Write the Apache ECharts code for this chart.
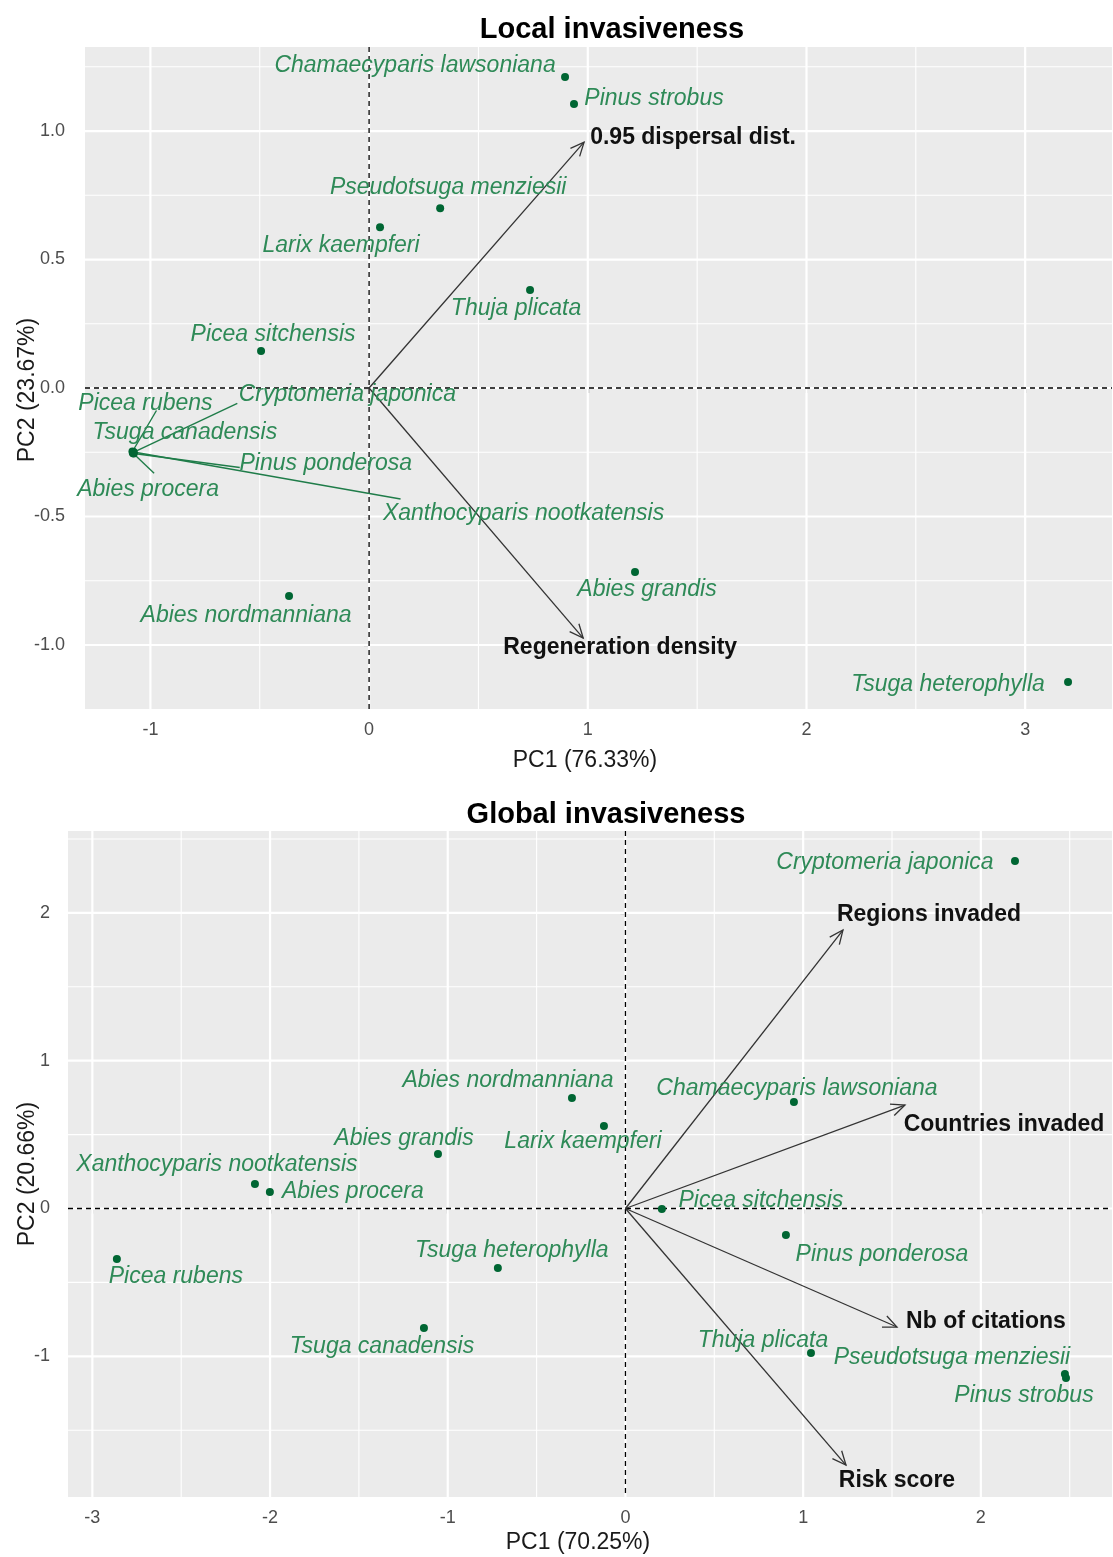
<!DOCTYPE html>
<html>
<head>
<meta charset="utf-8">
<script src="https://cdn.jsdelivr.net/npm/echarts@6/dist/echarts.min.js"></script>
<style>html,body{margin:0;padding:0;background:#fff}#c{width:1113px;height:1557px}</style>
</head>
<body>
<div id="c"></div>
<script>
// ---------- Data: Local invasiveness ----------
const localSpecies = ['Chamaecyparis lawsoniana','Pinus strobus','Pseudotsuga menziesii','Larix kaempferi','Thuja plicata','Picea sitchensis','Cryptomeria japonica','Picea rubens','Tsuga canadensis','Pinus ponderosa','Abies procera','Xanthocyparis nootkatensis','Abies nordmanniana','Abies grandis','Tsuga heterophylla'];
const localPC1 = [0.896,0.937,0.325,0.050,0.736,-0.494,-1.078,-1.082,-1.080,-1.076,-1.079,-1.077,-0.366,1.216,3.196];
const localPC2 = [1.210,1.105,0.700,0.626,0.381,0.144,-0.250,-0.247,-0.252,-0.255,-0.254,-0.249,-0.809,-0.716,-1.144];
const localVars = ['0.95 dispersal dist.','Regeneration density'];
const localVarPC1 = [0.983,0.979];
const localVarPC2 = [0.957,-0.973];
const localXTicks = [-1,0,1,2,3];
const localYTicks = [-1,-0.5,0,0.5,1];
const localXMinor = [-0.5,0.5,1.5,2.5];
const localYMinor = [-0.75,-0.25,0.25,0.75,1.25];

// ---------- Data: Global invasiveness ----------
const globalSpecies = ['Cryptomeria japonica','Abies nordmanniana','Larix kaempferi','Chamaecyparis lawsoniana','Abies grandis','Xanthocyparis nootkatensis','Abies procera','Picea sitchensis','Pinus ponderosa','Picea rubens','Tsuga heterophylla','Tsuga canadensis','Thuja plicata','Pseudotsuga menziesii','Pinus strobus'];
const globalPC1 = [2.192,-0.301,-0.121,0.948,-1.055,-2.085,-2.001,0.205,0.903,-2.862,-0.718,-1.134,1.044,2.473,2.479];
const globalPC2 = [2.351,0.747,0.558,0.720,0.369,0.166,0.112,-0.003,-0.179,-0.342,-0.403,-0.808,-0.978,-1.120,-1.147];
const globalVars = ['Regions invaded','Countries invaded','Nb of citations','Risk score'];
const globalVarPC1 = [1.224,1.573,1.528,1.241];
const globalVarPC2 = [1.884,0.700,-0.802,-1.736];
const globalXTicks = [-3,-2,-1,0,1,2];
const globalYTicks = [-1,0,1,2];
const globalXMinor = [-2.5,-1.5,-0.5,0.5,1.5,2.5];
const globalYMinor = [-1.5,-0.5,0.5,1.5,2.5];

// ---------- Layout (pixel offsets of text labels, ggrepel-like) ----------
const localLabelOffset = [[-150,-11],[80,-5],[8,-21],[-39,18],[-14,18],[12,-16],[214,-58],[13,-48],[52,-20],[192,10],[15,36],[390,62],[-43,20],[12,18],[-120,3]];
const localSegEnd = [null,null,null,null,null,null,[104,-49],[24,-41],null,[106,14],[21,20],[267,47],null,null,null];
const globalLabelOffset = [[-130,2],[-64,-17],[-21,16],[3,-13],[-34,-15],[-38,-19],[83,0],[99,-8],[96,20],[59,18],[14,-17],[-42,19],[-48,-12],[-113,-16],[-42,18]];
const globalSegEnd = globalSpecies.map(() => null);
const localVarOffset = [[109,-4],[37,10]];
const globalVarOffset = [[86,-15],[99,20],[89,-5],[51,16]];

const FONT = '"Liberation Sans", Arial, Helvetica, sans-serif';
const LABEL_COLOR = '#2E8A57';
const POINT_COLOR = '#006633';
const SEG_COLOR = '#1F7C49';

function gridItems(xMajor, xMinor, yMajor, yMinor) {
  const items = [];
  xMinor.forEach(v => items.push([v, 0, 0]));
  yMinor.forEach(v => items.push([v, 1, 0]));
  xMajor.forEach(v => items.push([v, 0, 1]));
  yMajor.forEach(v => items.push([v, 1, 1]));
  items.push([0, 0, 2]);
  items.push([0, 1, 2]);
  return items;
}

function renderGrid(params, api) {
  const cs = params.coordSys;
  const v = api.value(0), o = api.value(1), s = api.value(2);
  let shape;
  if (o === 0) {
    const x = api.coord([v, 0])[0];
    shape = {x1: x, y1: cs.y, x2: x, y2: cs.y + cs.height};
  } else {
    const y = api.coord([0, v])[1];
    shape = {x1: cs.x, y1: y, x2: cs.x + cs.width, y2: y};
  }
  const style = s === 2 ? {stroke: '#000', lineWidth: 1.3, lineDash: [5, 4]}
                        : {stroke: '#fff', lineWidth: s === 1 ? 2.2 : 1.1};
  return {type: 'line', shape: shape, style: style};
}

function makeArrowRenderer(names, offsets) {
  return function (params, api) {
    const o = api.coord([0, 0]);
    const e = api.coord([api.value(0), api.value(1)]);
    const ang = Math.atan2(e[1] - o[1], e[0] - o[0]);
    const L = 15, a = Math.PI / 7.5;
    const w1 = [e[0] - L * Math.cos(ang - a), e[1] - L * Math.sin(ang - a)];
    const w2 = [e[0] - L * Math.cos(ang + a), e[1] - L * Math.sin(ang + a)];
    const i = params.dataIndex;
    const off = offsets[i];
    return {type: 'group', children: [
      {type: 'line', shape: {x1: o[0], y1: o[1], x2: e[0], y2: e[1]}, style: {stroke: '#333', lineWidth: 1.3}},
      {type: 'polyline', shape: {points: [w1, e, w2]}, style: {stroke: '#333', lineWidth: 1.3, fill: null}},
      {type: 'text', x: e[0] + off[0], y: e[1] + off[1], style: {text: names[i], fill: '#111', font: 'bold 23px ' + FONT, align: 'center', verticalAlign: 'middle'}}
    ]};
  };
}

function makeLabelRenderer(names, offsets, segs) {
  return function (params, api) {
    const p = api.coord([api.value(0), api.value(1)]);
    const i = params.dataIndex;
    const off = offsets[i];
    const children = [];
    if (segs[i]) {
      children.push({type: 'line', shape: {x1: p[0], y1: p[1], x2: p[0] + segs[i][0], y2: p[1] + segs[i][1]}, style: {stroke: SEG_COLOR, lineWidth: 1.4}});
    }
    children.push({type: 'text', x: p[0] + off[0], y: p[1] + off[1], style: {text: names[i], fill: LABEL_COLOR, font: 'italic 23px ' + FONT, align: 'center', verticalAlign: 'middle'}});
    return {type: 'group', children: children};
  };
}

function valueAxis(gi, min, max, ticks, fmt, margin) {
  return {
    type: 'value', gridIndex: gi, min: min, max: max,
    axisLine: {show: false},
    splitLine: {show: false},
    minorSplitLine: {show: false},
    axisTick: {show: true, length: 5, lineStyle: {color: '#333', width: 1.2}, customValues: ticks},
    axisLabel: {show: true, customValues: ticks, color: '#4D4D4D', fontSize: 18, fontFamily: FONT, margin: margin, formatter: fmt}
  };
}

const zip = (a, b) => a.map((v, i) => [v, b[i]]);

const chart = echarts.init(document.getElementById('c'), null, {renderer: 'canvas'});
chart.setOption({
  animation: false,
  backgroundColor: '#fff',
  title: [
    {text: 'Local invasiveness', left: 607, top: 10, textAlign: 'center', textStyle: {fontSize: 29, fontWeight: 'bold', color: '#000', fontFamily: FONT}},
    {text: 'Global invasiveness', left: 601, top: 795, textAlign: 'center', textStyle: {fontSize: 29, fontWeight: 'bold', color: '#000', fontFamily: FONT}}
  ],
  grid: [
    {left: 85, top: 47, width: 1027, height: 662, show: true, backgroundColor: '#EBEBEB', borderWidth: 0},
    {left: 68, top: 831, width: 1044, height: 666, show: true, backgroundColor: '#EBEBEB', borderWidth: 0}
  ],
  xAxis: [
    valueAxis(0, -1.299, 3.397, localXTicks, v => String(v), 12),
    valueAxis(1, -3.137, 2.738, globalXTicks, v => String(v), 12)
  ],
  yAxis: [
    valueAxis(0, -1.249, 1.327, localYTicks, v => v.toFixed(1), 20),
    valueAxis(1, -1.952, 2.554, globalYTicks, v => String(v), 18)
  ],
  graphic: [
    {type: 'text', x: 585, y: 761, style: {text: 'PC1 (76.33%)', font: '23px ' + FONT, fill: '#1A1A1A', align: 'center', verticalAlign: 'middle'}},
    {type: 'text', x: 578, y: 1543, style: {text: 'PC1 (70.25%)', font: '23px ' + FONT, fill: '#1A1A1A', align: 'center', verticalAlign: 'middle'}},
    {type: 'text', x: 28, y: 390, rotation: Math.PI / 2, style: {text: 'PC2 (23.67%)', font: '23px ' + FONT, fill: '#1A1A1A', align: 'center', verticalAlign: 'middle'}},
    {type: 'text', x: 28, y: 1174, rotation: Math.PI / 2, style: {text: 'PC2 (20.66%)', font: '23px ' + FONT, fill: '#1A1A1A', align: 'center', verticalAlign: 'middle'}}
  ],
  series: [
    {type: 'custom', xAxisIndex: 0, yAxisIndex: 0, z: 1, silent: true, renderItem: renderGrid,
      data: gridItems(localXTicks, localXMinor, localYTicks, localYMinor)},
    {type: 'custom', xAxisIndex: 1, yAxisIndex: 1, z: 1, silent: true, renderItem: renderGrid,
      data: gridItems(globalXTicks, globalXMinor, globalYTicks, globalYMinor)},
    {type: 'custom', xAxisIndex: 0, yAxisIndex: 0, z: 3, silent: true, renderItem: makeArrowRenderer(localVars, localVarOffset),
      data: zip(localVarPC1, localVarPC2)},
    {type: 'custom', xAxisIndex: 1, yAxisIndex: 1, z: 3, silent: true, renderItem: makeArrowRenderer(globalVars, globalVarOffset),
      data: zip(globalVarPC1, globalVarPC2)},
    {type: 'custom', xAxisIndex: 0, yAxisIndex: 0, z: 4, silent: true, renderItem: makeLabelRenderer(localSpecies, localLabelOffset, localSegEnd),
      data: zip(localPC1, localPC2)},
    {type: 'custom', xAxisIndex: 1, yAxisIndex: 1, z: 4, silent: true, renderItem: makeLabelRenderer(globalSpecies, globalLabelOffset, globalSegEnd),
      data: zip(globalPC1, globalPC2)},
    {type: 'scatter', xAxisIndex: 0, yAxisIndex: 0, z: 5, symbol: 'circle', symbolSize: 8, itemStyle: {color: POINT_COLOR, opacity: 1},
      data: zip(localPC1, localPC2)},
    {type: 'scatter', xAxisIndex: 1, yAxisIndex: 1, z: 5, symbol: 'circle', symbolSize: 8, itemStyle: {color: POINT_COLOR, opacity: 1},
      data: zip(globalPC1, globalPC2)}
  ]
});
</script>
</body>
</html>
